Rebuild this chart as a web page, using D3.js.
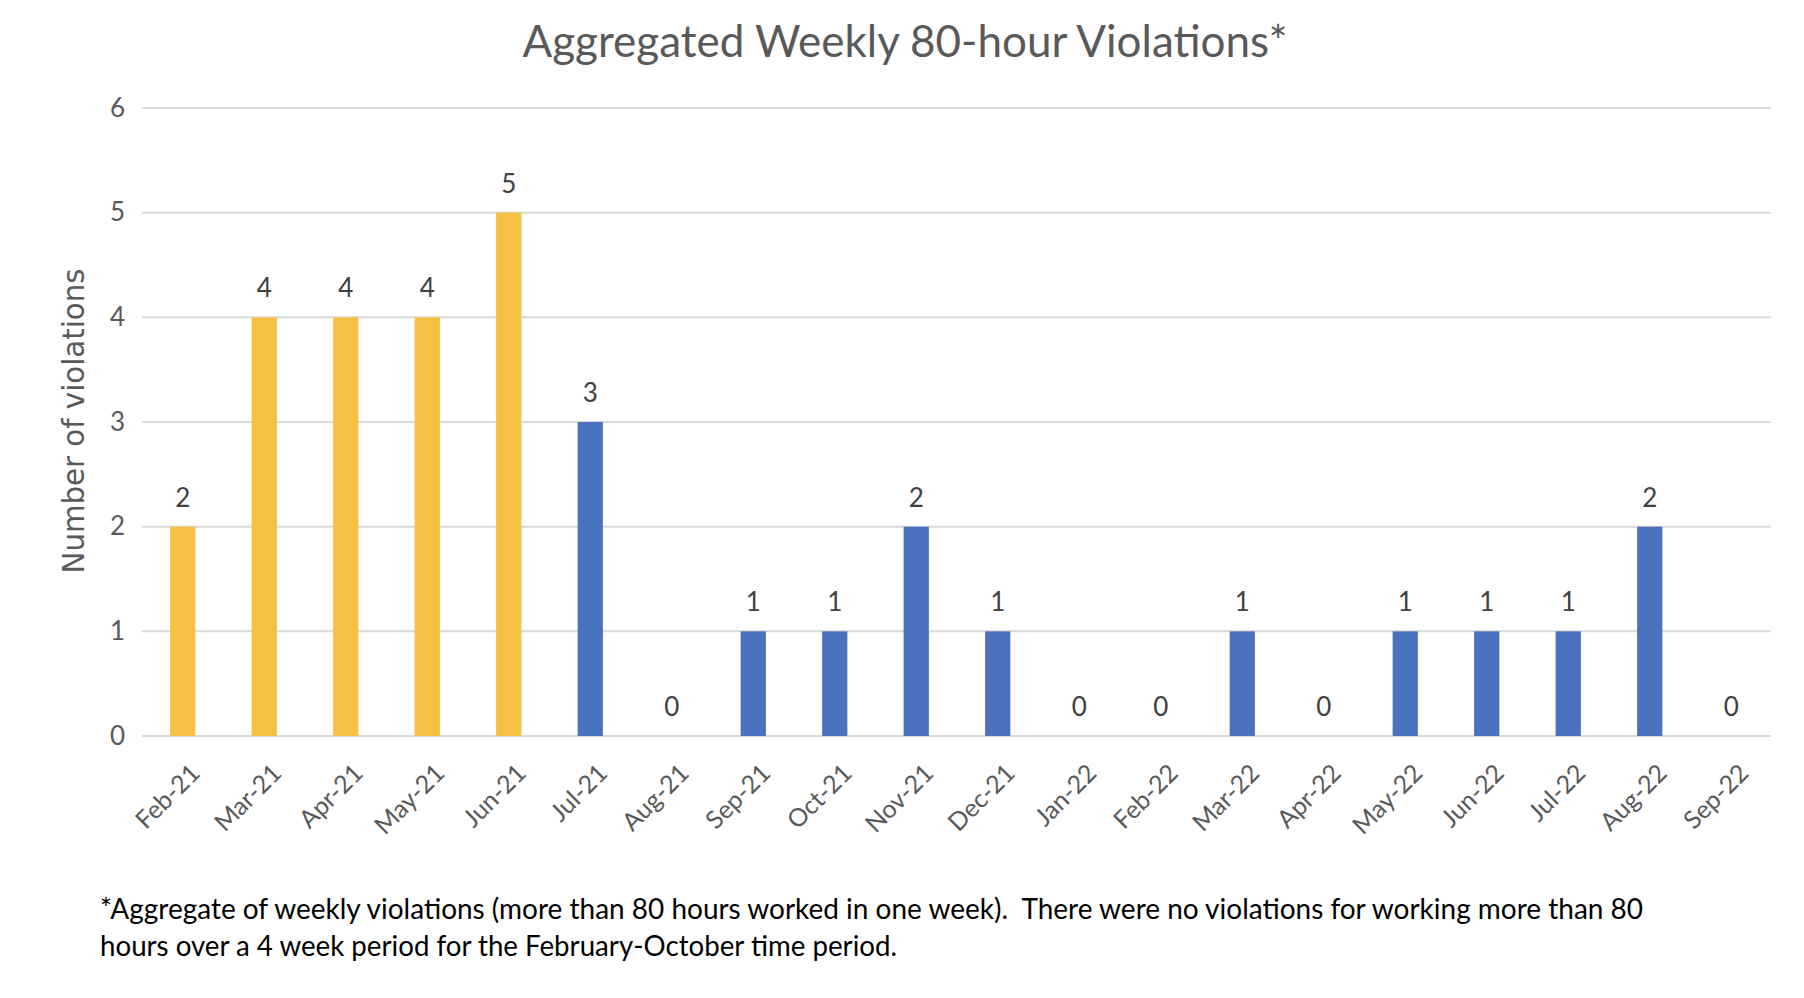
<!DOCTYPE html>
<html>
<head>
<meta charset="utf-8">
<script src="https://cdn.jsdelivr.net/npm/d3@7/dist/d3.min.js"></script>
<style>
  html, body { margin: 0; padding: 0; background: #ffffff; }
  svg { display: block; }
</style>
</head>
<body>
<svg id="chart" width="1804" height="998"></svg>
<script>
// ---- data ----
const categories = ["Feb-21","Mar-21","Apr-21","May-21","Jun-21","Jul-21","Aug-21","Sep-21","Oct-21","Nov-21",
                    "Dec-21","Jan-22","Feb-22","Mar-22","Apr-22","May-22","Jun-22","Jul-22","Aug-22","Sep-22"];
const violations = [2,4,4,4,5,3,0,1,1,2,1,0,0,1,0,1,1,1,2,0];
const highlightCount = 5; // first five months drawn in gold
const yTicks = [0,1,2,3,4,5,6];
const titleText = "Aggregated Weekly 80-hour Violations*";
const yTitleText = "Number of violations";
const footnoteLines = [
  "*Aggregate of weekly violations (more than 80 hours worked in one week).  There were no violations for working more than 80",
  "hours over a 4 week period for the February-October time period."
];

const GOLD = "#F6C143", BLUE = "#4A72BF";
const FONT = "Lato, 'Open Sans', sans-serif";

const svg = d3.select("#chart");
const x = d3.scaleBand().domain(categories).range([142, 1772]).padding(0);
const y = d3.scaleLinear().domain([0, 6]).range([736, 108]);
const barW = x.bandwidth() * 0.31;

// gridlines
svg.append("g").selectAll("line").data(yTicks).join("line")
  .attr("x1", 142).attr("x2", 1771)
  .attr("y1", d => y(d)).attr("y2", d => y(d))
  .attr("stroke", "#d9d9d9").attr("stroke-width", 2);

// y axis labels via d3 axis
const yAxis = svg.append("g").attr("transform", "translate(125,0)")
  .call(d3.axisLeft(y).tickValues(yTicks).tickSize(0).tickPadding(0).tickFormat(d3.format("d")));
yAxis.select(".domain").remove();
yAxis.selectAll("text").attr("font-family", FONT).attr("font-size", 26).attr("fill", "#595959");

// bars
svg.append("g").selectAll("rect").data(violations).join("rect")
  .attr("x", (d, i) => x(categories[i]) + x.bandwidth() / 2 - barW / 2)
  .attr("width", barW)
  .attr("y", d => y(d))
  .attr("height", d => y(0) - y(d))
  .attr("fill", (d, i) => i < highlightCount ? GOLD : BLUE);

// data labels
svg.append("g").selectAll("text").data(violations).join("text")
  .attr("x", (d, i) => x(categories[i]) + x.bandwidth() / 2)
  .attr("y", d => y(d) - 20)
  .attr("text-anchor", "middle")
  .attr("font-family", FONT).attr("font-size", 26).attr("fill", "#404040")
  .text(d => d);

// x axis labels via d3 axis
const xAxis = svg.append("g").attr("transform", "translate(0,736)")
  .call(d3.axisBottom(x).tickSize(0).tickPadding(0));
xAxis.select(".domain").remove();
xAxis.selectAll("text")
  .attr("font-family", FONT).attr("font-size", 25).attr("fill", "#595959")
  .attr("text-anchor", "end")
  .attr("y", 0).attr("dy", "0.72em")
  .attr("transform", "translate(6,26) rotate(-45)");

// title
svg.append("text")
  .attr("x", 905).attr("y", 57)
  .attr("text-anchor", "middle")
  .attr("font-family", FONT).attr("font-size", 45).attr("fill", "#595959")
  .attr("textLength", 765).attr("lengthAdjust", "spacingAndGlyphs")
  .text(titleText);

// y axis title
svg.append("text")
  .attr("transform", "translate(84,421) rotate(-90)")
  .attr("text-anchor", "middle")
  .attr("font-family", "'DejaVu Sans', sans-serif").attr("font-size", 30).attr("fill", "#595959")
  .attr("textLength", 305).attr("lengthAdjust", "spacingAndGlyphs")
  .text(yTitleText);

// footnote
const footWidths = [1543, 797];
svg.append("g").selectAll("text").data(footnoteLines).join("text")
  .attr("x", 100).attr("y", (d, i) => 919 + i * 37)
  .style("white-space", "pre")
  .attr("font-family", FONT).attr("font-size", 29).attr("fill", "#000000")
  .attr("textLength", (d, i) => footWidths[i]).attr("lengthAdjust", "spacingAndGlyphs")
  .text(d => d);
</script>
</body>
</html>
